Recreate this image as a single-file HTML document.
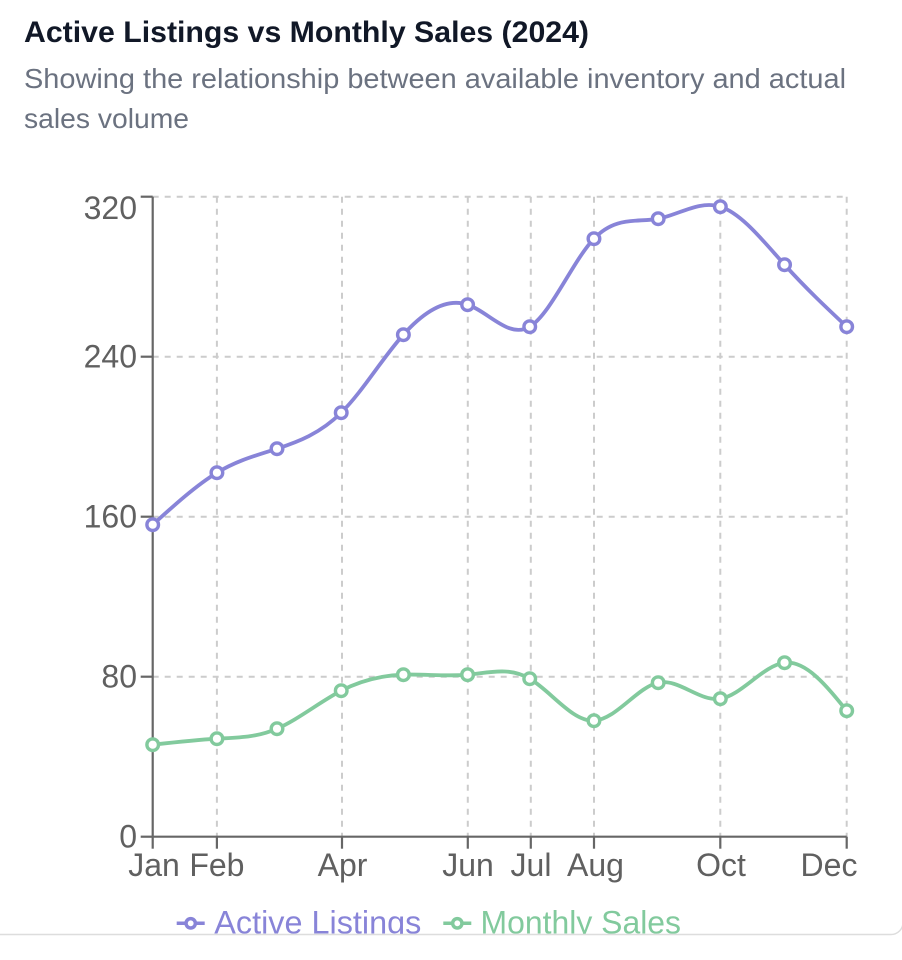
<!DOCTYPE html>
<html>
<head>
<meta charset="utf-8">
<style>
  html,body{margin:0;padding:0;background:#fff;}
  body{width:902px;height:960px;overflow:hidden;}
  svg{display:block;}
  text{font-family:"Liberation Sans", Arial, sans-serif;}
</style>
</head>
<body>
<svg id="chart" width="902" height="960" viewBox="0 0 902 960" xmlns="http://www.w3.org/2000/svg">
  <defs>
    <clipPath id="cardclip"><rect x="0" y="0" width="902" height="934"/></clipPath>
  </defs>
  <rect x="0" y="0" width="902" height="960" fill="#fff"/>

  <!-- Title -->
  <text x="24" y="42" font-size="30" font-weight="bold" fill="#111827" textLength="565" lengthAdjust="spacingAndGlyphs">Active Listings vs Monthly Sales (2024)</text>
  <text x="24" y="88" font-size="28" fill="#6b7280" textLength="822" lengthAdjust="spacingAndGlyphs">Showing the relationship between available inventory and actual</text>
  <text x="24" y="128" font-size="28" fill="#6b7280" textLength="165" lengthAdjust="spacingAndGlyphs">sales volume</text>

  <!-- Grid -->
  <g stroke="#cccccc" stroke-width="2" stroke-dasharray="6 6" fill="none">
    <line x1="152.7" y1="196.7" x2="846.7" y2="196.7"/>
    <line x1="152.7" y1="356.7" x2="846.7" y2="356.7"/>
    <line x1="152.7" y1="516.7" x2="846.7" y2="516.7"/>
    <line x1="152.7" y1="676.7" x2="846.7" y2="676.7"/>
    <line x1="216.9" y1="196.7" x2="216.9" y2="836.7"/>
    <line x1="342.0" y1="196.7" x2="342.0" y2="836.7"/>
    <line x1="467.8" y1="196.7" x2="467.8" y2="836.7"/>
    <line x1="530.8" y1="196.7" x2="530.8" y2="836.7"/>
    <line x1="594.0" y1="196.7" x2="594.0" y2="836.7"/>
    <line x1="720.3" y1="196.7" x2="720.3" y2="836.7"/>
    <line x1="846.7" y1="196.7" x2="846.7" y2="836.7"/>
  </g>

  <!-- Axes -->
  <g stroke="#666666" stroke-width="2.2" fill="none">
    <line x1="152.7" y1="196.7" x2="152.7" y2="836.7"/>
    <line x1="152.7" y1="836.7" x2="846.7" y2="836.7"/>
    <line x1="140.7" y1="196.7" x2="152.7" y2="196.7"/>
    <line x1="140.7" y1="356.7" x2="152.7" y2="356.7"/>
    <line x1="140.7" y1="516.7" x2="152.7" y2="516.7"/>
    <line x1="140.7" y1="676.7" x2="152.7" y2="676.7"/>
    <line x1="140.7" y1="836.7" x2="152.7" y2="836.7"/>
    <line x1="152.7" y1="836.7" x2="152.7" y2="848.7"/>
    <line x1="216.9" y1="836.7" x2="216.9" y2="848.7"/>
    <line x1="342.0" y1="836.7" x2="342.0" y2="848.7"/>
    <line x1="467.8" y1="836.7" x2="467.8" y2="848.7"/>
    <line x1="530.8" y1="836.7" x2="530.8" y2="848.7"/>
    <line x1="594.0" y1="836.7" x2="594.0" y2="848.7"/>
    <line x1="720.3" y1="836.7" x2="720.3" y2="848.7"/>
    <line x1="846.7" y1="836.7" x2="846.7" y2="848.7"/>
  </g>

  <!-- Y tick labels -->
  <g font-size="32" fill="#606060" text-anchor="end">
    <text x="137" y="219">320</text>
    <text x="137" y="367.5">240</text>
    <text x="137" y="527.5">160</text>
    <text x="137" y="687.5">80</text>
    <text x="137" y="847.5">0</text>
  </g>

  <!-- X tick labels -->
  <g font-size="32" fill="#606060" text-anchor="middle">
    <text x="154" y="876">Jan</text>
    <text x="216.9" y="876">Feb</text>
    <text x="342.5" y="876">Apr</text>
    <text x="468" y="876">Jun</text>
    <text x="531" y="876">Jul</text>
    <text x="595.5" y="876">Aug</text>
    <text x="721" y="876">Oct</text>
    <text x="829" y="876">Dec</text>
  </g>

  <!-- Series -->
  <g id="series"></g>

  <!-- Legend (clipped by card) -->
  <g clip-path="url(#cardclip)">
    <g transform="translate(176.7,909.3) scale(0.875)" fill="none" stroke="#8884d8" stroke-width="4">
      <path d="M0,16h10.667A5.333,5.333,0,1,1,21.333,16H32M21.333,16A5.333,5.333,0,1,1,10.667,16"/>
    </g>
    <text x="214.3" y="933.5" font-size="32" fill="#8884d8" textLength="207" lengthAdjust="spacingAndGlyphs">Active Listings</text>
    <g transform="translate(443.3,909.3) scale(0.875)" fill="none" stroke="#82ca9d" stroke-width="4">
      <path d="M0,16h10.667A5.333,5.333,0,1,1,21.333,16H32M21.333,16A5.333,5.333,0,1,1,10.667,16"/>
    </g>
    <text x="480.5" y="933.5" font-size="32" fill="#82ca9d" textLength="200.5" lengthAdjust="spacingAndGlyphs">Monthly Sales</text>
  </g>

  <!-- Card border -->
  <path d="M-10,934.5 H891 A12,12 0 0 0 903,922.5 V-10" fill="none" stroke="#dddddd" stroke-width="1.5"/>
</svg>

<script>
(function(){
  var days=[0,31,60,91,121,152,182,213,244,274,305,335];
  var x0=152.7, x1=846.7, y0=836.7, k=2;
  var xs=days.map(function(d){return x0+d*(x1-x0)/335;});
  var listings=[156,182,194,212,251,266,255,299,309,315,286,255];
  var sales=[46,49,54,73,81,81,79,58,77,69,87,63];
  function cp(x){
    var i,n=x.length-1,m,a=new Array(n),b=new Array(n),r=new Array(n);
    a[0]=0;b[0]=2;r[0]=x[0]+2*x[1];
    for(i=1;i<n-1;++i){a[i]=1;b[i]=4;r[i]=4*x[i]+2*x[i+1];}
    a[n-1]=2;b[n-1]=7;r[n-1]=8*x[n-1]+x[n];
    for(i=1;i<n;++i){m=a[i]/b[i-1];b[i]-=m;r[i]-=m*r[i-1];}
    a[n-1]=r[n-1]/b[n-1];
    for(i=n-2;i>=0;--i)a[i]=(r[i]-a[i+1])/b[i];
    b[n-1]=(x[n]+a[n-1])/2;
    for(i=0;i<n-1;++i)b[i]=2*x[i+1]-a[i+1];
    return [a,b];
  }
  function path(vals){
    var ys=vals.map(function(v){return y0-v*k;});
    var px=cp(xs),py=cp(ys);
    var d="M"+xs[0].toFixed(2)+","+ys[0].toFixed(2);
    for(var i=0;i<xs.length-1;i++){
      d+="C"+px[0][i].toFixed(2)+","+py[0][i].toFixed(2)+" "+px[1][i].toFixed(2)+","+py[1][i].toFixed(2)+" "+xs[i+1].toFixed(2)+","+ys[i+1].toFixed(2);
    }
    return {d:d,ys:ys};
  }
  var ns="http://www.w3.org/2000/svg";
  var g=document.getElementById("series");
  function draw(vals,color){
    var p=path(vals);
    var el=document.createElementNS(ns,"path");
    el.setAttribute("d",p.d);el.setAttribute("fill","none");
    el.setAttribute("stroke",color);el.setAttribute("stroke-width","3.8");
    el.setAttribute("stroke-linejoin","round");el.setAttribute("stroke-linecap","round");
    g.appendChild(el);
    for(var i=0;i<xs.length;i++){
      var c=document.createElementNS(ns,"circle");
      c.setAttribute("cx",xs[i]);c.setAttribute("cy",p.ys[i]);c.setAttribute("r","5.8");
      c.setAttribute("fill","#fff");c.setAttribute("stroke",color);c.setAttribute("stroke-width","3.4");
      g.appendChild(c);
    }
  }
  draw(listings,"#8884d8");
  draw(sales,"#82ca9d");
})();
</script>
</body>
</html>
